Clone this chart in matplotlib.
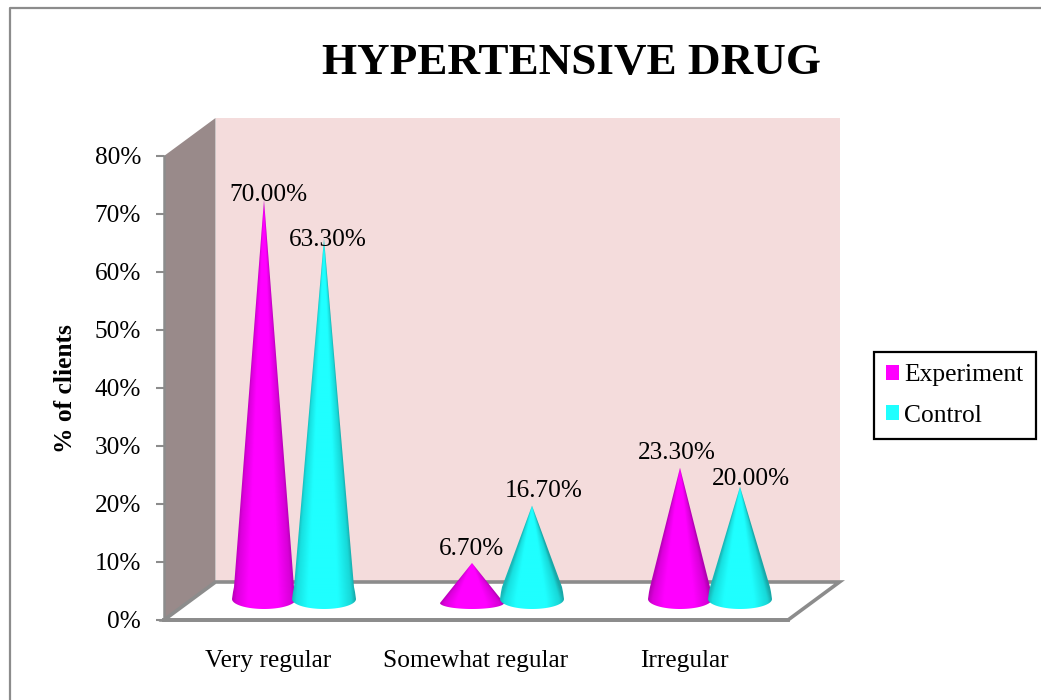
import numpy as np
import matplotlib
matplotlib.use("Agg")
import matplotlib.pyplot as plt
from matplotlib.patches import Polygon, Patch
from matplotlib.colors import LinearSegmentedColormap
from matplotlib.ticker import PercentFormatter

categories = ["Very regular", "Somewhat regular", "Irregular"]
experiment = [70.0, 6.7, 23.3]
control = [63.3, 16.7, 20.0]
y_ticks = [0, 10, 20, 30, 40, 50, 60, 70, 80]

W, H = 1041, 700
plt.rcParams['font.family'] = ['Liberation Serif', 'DejaVu Serif']
GRAY = '#8C8C8C'

fig = plt.figure(figsize=(W / 100, H / 100), dpi=100, facecolor='white')
L, R, T, B = 164, 788, 156, 620
ax = fig.add_axes([L / W, 1 - B / H, (R - L) / W, (B - T) / H])
ax.set_xlim(0, 3)
ax.set_ylim(0, 80)
px = 3 / (R - L)
py = 80 / (B - T)
dx, dy = 51.5 * px, 38 * py
ax.patch.set_visible(False)

# 3D box
ax.add_patch(Polygon([(dx, dy), (3 + dx, dy), (3 + dx, 80 + dy), (dx, 80 + dy)], fc='#F4DCDC', ec='none', clip_on=False, zorder=1))
ax.add_patch(Polygon([(0, 0), (dx, dy), (dx, 80 + dy), (0, 80)], fc='#998A8A', ec='none', clip_on=False, zorder=2))
ax.add_patch(Polygon([(0, 0), (dx, dy), (3 + dx, dy), (3, 0)], fc='white', ec=GRAY, lw=2.6, clip_on=False, zorder=2))


def tip_of(value):
    return value * 0.989 + 18.6 * py


def cone(cx, value, stops, z):
    tip = tip_of(value)
    hw, flare = 30 * px, 32 * px
    short = value < 10
    yc = (17 if short else 21) * py
    ry = (6 if short else 10) * py
    t = np.linspace(np.pi, 2 * np.pi, 40)
    arc = np.column_stack([cx + flare * np.cos(t), yc + ry * np.sin(t)])
    if short:
        up, dn = [], []
    else:
        up = [(cx - hw, yc + 12 * py), (cx - flare + px, yc + 7 * py), (cx - flare, yc)]
        dn = [(cx + flare, yc), (cx + flare - px, yc + 7 * py), (cx + hw, yc + 12 * py)]
    pts = [(cx, tip)] + up + list(map(tuple, arc)) + dn
    patch = Polygon(pts, closed=True, fc='none', ec='none', clip_on=False, zorder=z)
    ax.add_patch(patch)
    cmap = LinearSegmentedColormap.from_list('c', stops, N=256)
    ys = np.linspace(tip, 0, 500)
    xs = np.linspace(cx - flare, cx + flare, 160)
    X, Y = np.meshgrid(xs, ys)
    half = np.maximum(flare * (tip - Y) / (tip - yc), px * 0.5)
    half = np.minimum(half, flare)
    grad = np.clip(((X - cx) / half + 1) / 2, 0, 1)
    im = ax.imshow(grad, cmap=cmap, aspect='auto', extent=[xs[0], xs[-1], 0, tip], zorder=z, vmin=0, vmax=1, interpolation='bilinear')
    im.set_clip_path(patch)


MAG = [(0, '#B800B8'), (.07, '#DC00DC'), (.25, '#FF00FF'), (.72, '#FF00FF'), (.93, '#D800D8'), (1, '#B000B0')]
CYA = [(0, '#18B8B8'), (.07, '#18E0E0'), (.25, '#1FFFFF'), (.72, '#1FFFFF'), (.93, '#18D8D8'), (1, '#18A8A8')]

sep = 30 * px
shift = 26 * px
centers = np.arange(len(categories)) + 0.5
for c, e, k in zip(centers, experiment, control):
    cone(c + shift - sep, e, MAG, 3)
    cone(c + shift + sep, k, CYA, 4)
ax.set_xlim(0, 3)
ax.set_ylim(0, 80)

# data labels (pixel offsets from the cone tips)
exp_off = [(4, 5), (-1, 14), (-3, 15)]
ctl_off = [(4, -2), (12, 15), (11, 8)]
for c, e, k, oe, ok in zip(centers, experiment, control, exp_off, ctl_off):
    for xx, v, o in ((c + shift - sep, e, oe), (c + shift + sep, k, ok)):
        ax.annotate(f"{v:.2f}%", (xx, tip_of(v)), xytext=(o[0] * .72, o[1] * .72),
                    textcoords='offset points', ha='center', va='center',
                    fontsize=18.2, color='black', zorder=5, annotation_clip=False)

ax.set_xticks(centers)
ax.set_xticklabels(categories, fontsize=18.3)
ax.set_yticks(y_ticks)
ax.yaxis.set_major_formatter(PercentFormatter(decimals=0))
ax.tick_params(axis='y', length=5.5, width=1.5, color=GRAY, pad=11, labelsize=18.2)
ax.tick_params(axis='x', length=0, pad=21.5)
for s in ('top', 'right'):
    ax.spines[s].set_visible(False)
ax.spines['left'].set_color(GRAY)
ax.spines['left'].set_linewidth(1.8)
ax.spines['bottom'].set_color(GRAY)
ax.spines['bottom'].set_linewidth(2.8)
ax.spines['left'].set_zorder(6)
ax.spines['bottom'].set_zorder(6)

fig.text(66 / W, 1 - 389 / H, "% of clients", rotation=90, ha='center', va='center', fontsize=18.4, fontweight='bold')
fig.text(571.5 / W, 1 - 63 / H, "HYPERTENSIVE DRUG", ha='center', va='center', fontsize=32.5, fontweight='bold')

handles = [Patch(fc='#FF00FF', ec='none', label='Experiment'), Patch(fc='#1FFFFF', ec='none', label='Control')]
leg = fig.legend(handles=handles, loc='center', bbox_to_anchor=(955 / W, 1 - 395.5 / H), fontsize=18.4,
                 frameon=True, fancybox=False, edgecolor='black', framealpha=1,
                 handlelength=0.5, handleheight=0.5, handletextpad=0.2, labelspacing=0.72, borderpad=0.5, borderaxespad=0)
leg.get_frame().set_linewidth(1.6)

# outer frame
fig.add_artist(plt.Line2D([10 / W, 10 / W, 1], [0, 1 - 8 / H, 1 - 8 / H], color=GRAY, lw=1.6, transform=fig.transFigure))

fig.savefig("out.png", dpi=100)
